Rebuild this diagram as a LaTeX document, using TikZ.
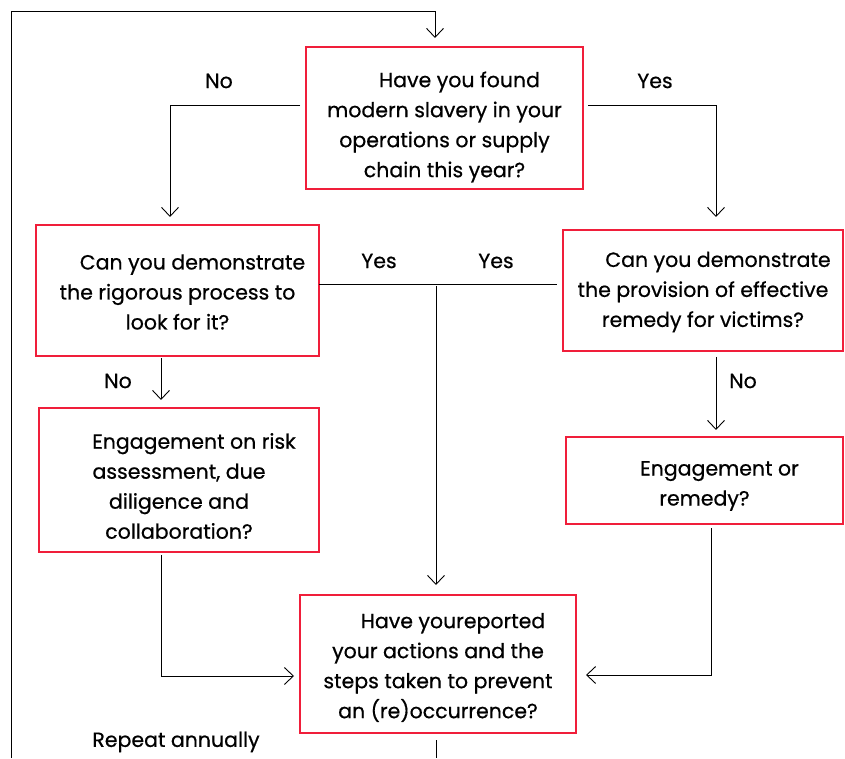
\documentclass[tikz,border=0pt]{standalone}
\usepackage{fontspec}
\setmainfont{Poppins}[FakeBold=0.6,AutoFakeBold=0.6]
\usetikzlibrary{arrows.meta}
\definecolor{boxred}{RGB}{240,30,58}
\begin{document}
\begin{tikzpicture}[x=1pt,y=1pt,
  qbox/.style={draw=boxred,line width=2.2pt,minimum width=#1,inner sep=0pt},
  qtext/.style={align=center,font=\fontsize{20.5}{30}\selectfont\bfseries,inner sep=0pt},
  lbl/.style={font=\fontsize{20.5}{30}\selectfont\bfseries,inner sep=0pt},
  conn/.style={draw=black,line width=0.9pt},
  arr/.style={conn,-{Straight Barb[length=9pt,width=17pt,line width=0.9pt]}}]
\useasboundingbox (0,0) rectangle (845,758);
% boxes
\node[qbox=277pt,minimum height=142pt] (A) at (444.5,640) {};
\node[qtext] (tA) at (444.5,631) {\hspace*{30pt}Have you found\\modern slavery in your\\operations or supply\\chain this year?};
\node[qbox=283pt,minimum height=131pt] (B) at (177.5,467.5) {};
\node[qtext] (tB) at (177.5,466) {\hspace*{30pt}Can you demonstrate\\the rigorous process to\\look for it?};
\node[qbox=280pt,minimum height=121pt] (C) at (703,467.5) {};
\node[qtext] (tC) at (703,466) {\hspace*{30pt}Can you demonstrate\\the provision of effective\\remedy for victims?};
\node[qbox=280pt,minimum height=144pt] (D) at (179,278) {};
\node[qtext] (tD) at (179,272) {\hspace*{30pt}Engagement on risk\\assessment, due\\diligence and\\collaboration?};
\node[qbox=277pt,minimum height=87pt] (E) at (704.5,277.5) {};
\node[qtext] (tE) at (704.5,272) {\hspace*{30pt}Engagement or\\remedy?};
\node[qbox=276pt,minimum height=138pt] (F) at (438,94) {};
\node[qtext] (tF) at (438,90.5) {\hspace*{30pt}Have youreported\\your actions and the\\steps taken to prevent\\an (re)occurrence?};
% labels
\node[lbl] (l1) at (219,677) {No};
\node[lbl] (l2) at (655,677) {Yes};
\node[lbl] (l3) at (379,497) {Yes};
\node[lbl] (l4) at (496,497) {Yes};
\node[lbl] (l5) at (118,377) {No};
\node[lbl] (l6) at (743,377) {No};
\node[lbl] (l7) at (176,16) {Repeat annually};
% coordinates
\coordinate (loopS) at (11,0);
\coordinate (loopT) at (435,720);
\coordinate (aL) at (300,653);
\coordinate (bT) at (170,541);
\coordinate (aR) at (588,653);
\coordinate (cT) at (716,541);
\coordinate (yL) at (319,474);
\coordinate (yR) at (557,474);
\coordinate (yM) at (436,472);
\coordinate (fT) at (436,173);
\coordinate (bB) at (161,400);
\coordinate (dT) at (161,358);
\coordinate (cB) at (716,401);
\coordinate (eT) at (716,328);
\coordinate (dB) at (161,203);
\coordinate (fL) at (294,82);
\coordinate (eB) at (711,230);
\coordinate (fR) at (586,83);
\coordinate (fB) at (436,18);
\coordinate (fE) at (436,0);
% connectors
\draw[arr] (loopS) |- (435,747) -- (loopT);
\draw[arr] (aL) -| (bT);
\draw[arr] (aR) -| (cT);
\draw[conn] (yL) -- (yR);
\draw[arr] (yM) -- (fT);
\draw[arr] (bB) -- (dT);
\draw[arr] (cB) -- (eT);
\draw[arr] (dB) |- (fL);
\draw[arr] (eB) |- (fR);
\draw[conn] (fB) -- (fE);
\end{tikzpicture}
\end{document}
